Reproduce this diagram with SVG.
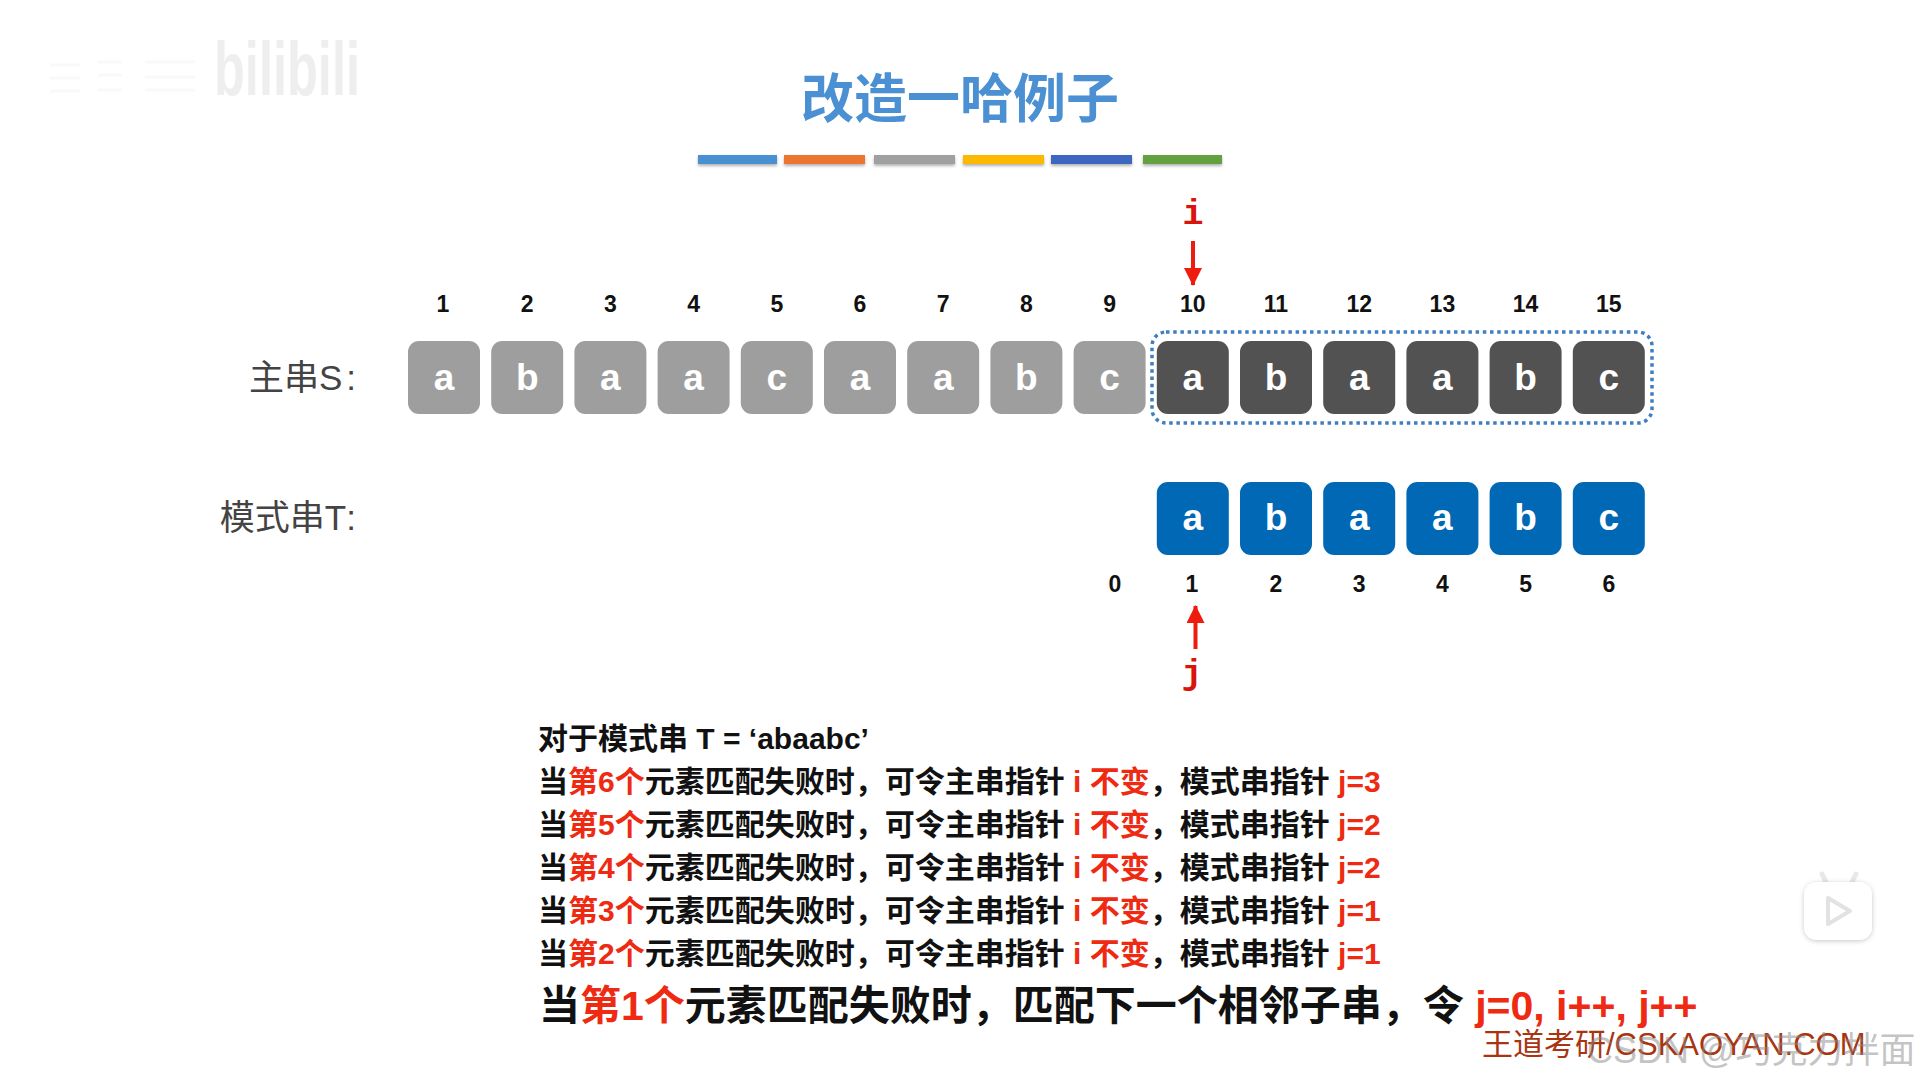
<svg xmlns="http://www.w3.org/2000/svg" width="1919" height="1079" viewBox="0 0 1919 1079">
<style>
text{font-family:"Liberation Sans","Noto Sans CJK SC",sans-serif}
.box{stroke:none}
.g{fill:#9e9e9e}.d{fill:#525252}.bl{fill:#0068b4}
.ch{fill:#fff;font-size:37px;font-weight:700;text-anchor:middle}
.n{fill:#111;font-size:23px;font-weight:700;text-anchor:middle;font-family:"Liberation Sans",sans-serif}
.lab{fill:#444;font-size:35px;text-anchor:end}
.l{fill:#111;font-size:30px;font-weight:700;font-family:"Liberation Sans","Noto Sans CJK SC",sans-serif}
.big{font-size:41px}
.r{fill:#ee2a12}
.ptr{fill:#d8140c;font-size:35px;font-weight:700;text-anchor:middle;font-family:"Liberation Mono",monospace}
.bar{filter:url(#sh)}
</style>
<defs>
<filter id="sh" x="-5%" y="-50%" width="110%" height="220%"><feDropShadow dx="0" dy="2" stdDeviation="1.5" flood-color="#000" flood-opacity=".3"/></filter>
<filter id="sh2" x="-20%" y="-20%" width="140%" height="140%"><feDropShadow dx="0" dy="1" stdDeviation="2.5" flood-color="#000" flood-opacity=".22"/></filter>
<filter id="soft" x="-5%" y="-20%" width="110%" height="140%"><feGaussianBlur stdDeviation=".7"/></filter>
<marker id="ah" viewBox="0 0 18 18" refX="17" refY="9" markerWidth="18" markerHeight="18" markerUnits="userSpaceOnUse" orient="auto"><path d="M0 0L18 9L0 18Z" fill="#ee1c0e"/></marker>
</defs>
<rect width="1919" height="1079" fill="#fff"/>
<g id="watermark-bilibili" filter="url(#soft)">
<text x="214" y="95" font-size="76" font-weight="700" fill="#eeeeee" textLength="146" lengthAdjust="spacingAndGlyphs" style="font-family:'Liberation Sans',sans-serif">bilibili</text>
<path d="M50 65H80M50 78H80M50 91H80M98 62H122M98 75H122M98 90H122M145 62H195M145 77H195M145 90H195" stroke="#f9f9f9" stroke-width="3" fill="none"/>
</g>
<g id="title"><text x="960" y="118" text-anchor="middle" font-size="53" font-weight="700" fill="#4a90d2">改造一哈例子</text></g>
<g id="bars">
<rect class="bar" x="698" y="155" width="79" height="9" fill="#4a90d2"/>
<rect class="bar" x="784" y="155" width="81" height="9" fill="#ed7430"/>
<rect class="bar" x="874" y="155" width="81" height="9" fill="#a0a0a0"/>
<rect class="bar" x="963" y="155" width="81" height="9" fill="#fdb900"/>
<rect class="bar" x="1051" y="155" width="81" height="9" fill="#3d66c0"/>
<rect class="bar" x="1143" y="155" width="79" height="9" fill="#64a03f"/>
</g>
<g id="pointer-i"><text class="ptr" x="1193" y="224">i</text></g>
<g id="pointer-j"><text class="ptr" x="1192" y="684">j</text></g>
<g id="connectors">
<path d="M1193 241V285" stroke="#ee1c0e" stroke-width="4" fill="none" marker-end="url(#ah)"/>
<path d="M1195.500 649V606" stroke="#ee1c0e" stroke-width="4" fill="none" marker-end="url(#ah)"/>
</g>
<g id="labels">
<text class="lab" x="356" y="390">主串S<tspan dx="4">:</tspan></text>
<text class="lab" x="356" y="530">模式串T<tspan dx="4">:</tspan></text>
</g>
<g id="highlight"><rect x="1152" y="332" width="500" height="91" rx="14" fill="none" stroke="#3f7fbf" stroke-width="3.500" stroke-dasharray="3.500 3.700"/></g>
<g id="s-indexes">
<text class="n" x="443" y="312">1</text><text class="n" x="527.2" y="312">2</text><text class="n" x="610.4" y="312">3</text><text class="n" x="693.6" y="312">4</text><text class="n" x="776.8" y="312">5</text><text class="n" x="860" y="312">6</text><text class="n" x="943.2" y="312">7</text><text class="n" x="1026.4" y="312">8</text><text class="n" x="1109.6" y="312">9</text><text class="n" x="1192.8" y="312">10</text><text class="n" x="1276" y="312">11</text><text class="n" x="1359.2" y="312">12</text><text class="n" x="1442.4" y="312">13</text><text class="n" x="1525.6" y="312">14</text><text class="n" x="1608.8" y="312">15</text>
</g>
<g id="s1"><rect class="box g" x="408" y="341" width="72" height="73" rx="11"/><text class="ch" x="444" y="390">a</text></g>
<g id="s2"><rect class="box g" x="491.200" y="341" width="72" height="73" rx="11"/><text class="ch" x="527.2" y="390">b</text></g>
<g id="s3"><rect class="box g" x="574.400" y="341" width="72" height="73" rx="11"/><text class="ch" x="610.4" y="390">a</text></g>
<g id="s4"><rect class="box g" x="657.600" y="341" width="72" height="73" rx="11"/><text class="ch" x="693.6" y="390">a</text></g>
<g id="s5"><rect class="box g" x="740.800" y="341" width="72" height="73" rx="11"/><text class="ch" x="776.8" y="390">c</text></g>
<g id="s6"><rect class="box g" x="824" y="341" width="72" height="73" rx="11"/><text class="ch" x="860" y="390">a</text></g>
<g id="s7"><rect class="box g" x="907.200" y="341" width="72" height="73" rx="11"/><text class="ch" x="943.2" y="390">a</text></g>
<g id="s8"><rect class="box g" x="990.400" y="341" width="72" height="73" rx="11"/><text class="ch" x="1026.4" y="390">b</text></g>
<g id="s9"><rect class="box g" x="1073.600" y="341" width="72" height="73" rx="11"/><text class="ch" x="1109.6" y="390">c</text></g>
<g id="s10"><rect class="box d" x="1156.800" y="341" width="72" height="73" rx="11"/><text class="ch" x="1192.8" y="390">a</text></g>
<g id="s11"><rect class="box d" x="1240" y="341" width="72" height="73" rx="11"/><text class="ch" x="1276" y="390">b</text></g>
<g id="s12"><rect class="box d" x="1323.200" y="341" width="72" height="73" rx="11"/><text class="ch" x="1359.2" y="390">a</text></g>
<g id="s13"><rect class="box d" x="1406.400" y="341" width="72" height="73" rx="11"/><text class="ch" x="1442.4" y="390">a</text></g>
<g id="s14"><rect class="box d" x="1489.600" y="341" width="72" height="73" rx="11"/><text class="ch" x="1525.6" y="390">b</text></g>
<g id="s15"><rect class="box d" x="1572.800" y="341" width="72" height="73" rx="11"/><text class="ch" x="1608.8" y="390">c</text></g>
<g id="t1"><rect class="box bl" x="1156.800" y="482" width="72" height="73" rx="11"/><text class="ch" x="1192.8" y="530">a</text></g>
<g id="t2"><rect class="box bl" x="1240" y="482" width="72" height="73" rx="11"/><text class="ch" x="1276" y="530">b</text></g>
<g id="t3"><rect class="box bl" x="1323.200" y="482" width="72" height="73" rx="11"/><text class="ch" x="1359.2" y="530">a</text></g>
<g id="t4"><rect class="box bl" x="1406.400" y="482" width="72" height="73" rx="11"/><text class="ch" x="1442.4" y="530">a</text></g>
<g id="t5"><rect class="box bl" x="1489.600" y="482" width="72" height="73" rx="11"/><text class="ch" x="1525.6" y="530">b</text></g>
<g id="t6"><rect class="box bl" x="1572.800" y="482" width="72" height="73" rx="11"/><text class="ch" x="1608.8" y="530">c</text></g>
<g id="t-indexes">
<text class="n" x="1115" y="592">0</text><text class="n" x="1192" y="592">1</text><text class="n" x="1276" y="592">2</text><text class="n" x="1359.2" y="592">3</text><text class="n" x="1442.4" y="592">4</text><text class="n" x="1525.6" y="592">5</text><text class="n" x="1608.8" y="592">6</text>
</g>
<g id="notes">
<text class="l" x="538" y="749">对于模式串 T = ‘abaabc’</text>
<text class="l" x="538" y="792">当<tspan class="r">第6个</tspan>元素匹配失败时，可令主串指针 <tspan class="r">i 不变</tspan>，模式串指针 <tspan class="r">j=3</tspan></text>
<text class="l" x="538" y="835">当<tspan class="r">第5个</tspan>元素匹配失败时，可令主串指针 <tspan class="r">i 不变</tspan>，模式串指针 <tspan class="r">j=2</tspan></text>
<text class="l" x="538" y="878">当<tspan class="r">第4个</tspan>元素匹配失败时，可令主串指针 <tspan class="r">i 不变</tspan>，模式串指针 <tspan class="r">j=2</tspan></text>
<text class="l" x="538" y="921">当<tspan class="r">第3个</tspan>元素匹配失败时，可令主串指针 <tspan class="r">i 不变</tspan>，模式串指针 <tspan class="r">j=1</tspan></text>
<text class="l" x="538" y="964">当<tspan class="r">第2个</tspan>元素匹配失败时，可令主串指针 <tspan class="r">i 不变</tspan>，模式串指针 <tspan class="r">j=1</tspan></text>
<text class="l big" x="539" y="1020">当<tspan class="r">第1个</tspan>元素匹配失败时，匹配下一个相邻子串，令 <tspan class="r">j=0, i++, j++</tspan></text>
</g>
<g id="footer">
<text x="1482" y="1055" font-size="31" fill="#a8350f">王道考研/CSKAOYAN.COM</text>
<text x="1587" y="1063" font-size="36" fill="#8a8a8a" fill-opacity=".5">CSDN @巧克力拌面</text>
</g>
<g id="play-badge">
<path d="M1827 884L1822 874M1851 884L1856 874" stroke="#e8e8e8" stroke-width="5" stroke-linecap="round" fill="none"/>
<rect x="1804" y="882" width="68" height="58" rx="13" fill="#fff" filter="url(#sh2)"/>
<path d="M1828 898L1850 911L1828 924Z" fill="#fff" stroke="#e2e2e2" stroke-width="4" stroke-linejoin="round"/>
</g>
</svg>
